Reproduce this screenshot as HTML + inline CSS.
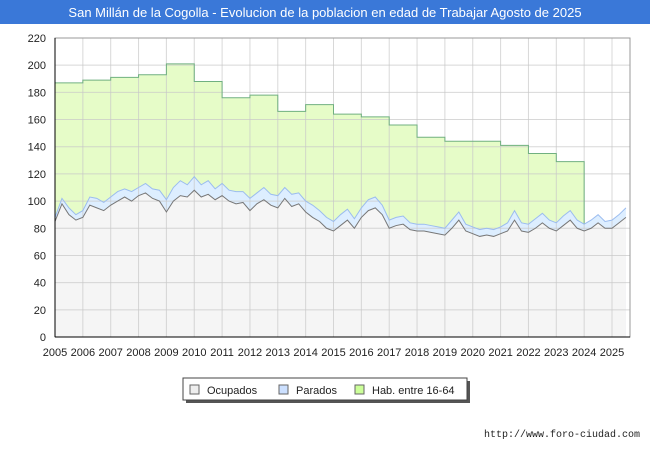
<!DOCTYPE html>
<html><head><meta charset="utf-8"><style>
body{margin:0;background:#fff;font-family:"Liberation Sans","DejaVu Sans",sans-serif;}
</style></head><body>
<svg id="c" width="650" height="450" xmlns="http://www.w3.org/2000/svg">
<rect x="0" y="0" width="650" height="450" fill="#fff"/>
<rect x="0" y="0" width="650" height="24" fill="#3a78d8"/>
<text x="325" y="17" text-anchor="middle" fill="#fff" font-size="13">San Millán de la Cogolla - Evolucion de la poblacion en edad de Trabajar Agosto de 2025</text>
<g id="fills"></g>
<g id="grid"></g>
<g id="lines"></g>
<g id="axes"></g>
<g>
<rect x="186" y="381" width="284" height="22" fill="#555"/>
<rect x="183" y="378" width="284" height="22" fill="#fff" stroke="#444"/>
<rect x="190" y="385" width="9" height="9" fill="#eee" stroke="#666"/>
<text x="207" y="394" font-size="11" fill="#222">Ocupados</text>
<rect x="279" y="385" width="9" height="9" fill="#cce0ff" stroke="#666"/>
<text x="296" y="394" font-size="11" fill="#222">Parados</text>
<rect x="355" y="385" width="9" height="9" fill="#ccff99" stroke="#666"/>
<text x="372" y="394" font-size="11" fill="#222">Hab. entre 16-64</text>
</g>
<text x="640" y="437" text-anchor="end" font-size="10" font-family="Liberation Mono, monospace" fill="#222">http://www.foro-ciudad.com</text>
</svg>
<script>
const yearLabels=[2005,2006,2007,2008,2009,2010,2011,2012,2013,2014,2015,2016,2017,2018,2019,2020,2021,2022,2023,2024,2025];
const yTicks=[0,20,40,60,80,100,120,140,160,180,200,220];
const habYears=[2005,2006,2007,2008,2009,2010,2011,2012,2013,2014,2015,2016,2017,2018,2019,2020,2021,2022,2023];
const habValues=[187,189,191,193,201,188,176,178,166,171,164,162,156,147,144,144,141,135,129];
const ocupados=[85,98,90,86,88,97,95,93,97,100,103,100,104,106,102,100,92,100,104,103,108,103,105,101,104,100,98,99,93,98,101,97,95,102,96,98,92,88,85,80,78,82,86,80,88,93,95,90,80,82,83,79,78,78,77,76,75,80,86,78,76,74,75,74,76,78,86,78,77,80,84,80,78,82,86,80,78,80,84,80,80,84,88];
const parados=[3,4,5,4,5,6,7,6,6,7,6,7,6,7,7,8,9,10,11,9,10,9,10,8,9,8,9,8,9,8,9,8,9,8,9,8,8,9,8,8,7,8,8,7,7,8,8,7,6,6,6,5,5,5,5,5,5,6,6,5,5,5,5,5,5,6,7,6,6,7,7,6,6,7,7,6,5,6,6,5,6,6,7];
const X0=55,X1=630,Y0=337,Y1=38;
const xs=y=>X0+(y-2005)*27.85;
const ys=v=>Y0-v*(Y0-Y1)/220;
const NS='http://www.w3.org/2000/svg';
function mk(tag,attrs,parent){const e=document.createElementNS(NS,tag);for(const k in attrs)e.setAttribute(k,attrs[k]);parent.appendChild(e);return e;}
const fills=document.getElementById('fills'),grid=document.getElementById('grid'),lines=document.getElementById('lines'),axes=document.getElementById('axes');
mk('rect',{x:X0,y:Y1,width:X1-X0,height:Y0-Y1,fill:'#fff'},fills);
yTicks.forEach(t=>{
 const l=mk('line',{x1:X0,x2:X1,y1:ys(t),y2:ys(t),stroke:'#c8c8c8','stroke-opacity':0.7},grid);
 
 
 const tx=mk('text',{x:X0-9,y:ys(t)+4,'text-anchor':'end','font-size':11,fill:'#222'},axes);
 tx.textContent=t;
 
 
});
yearLabels.forEach(yr=>{
 const l=mk('line',{x1:xs(yr),x2:xs(yr),y1:Y1,y2:Y0,stroke:'#c8c8c8','stroke-opacity':0.7},grid);
 
 
 const tx=mk('text',{x:xs(yr),y:Y0+19,'text-anchor':'middle','font-size':11,fill:'#222'},axes);
 tx.textContent=yr;
 
 
});
let hp='M'+xs(habYears[0])+','+Y0;
habYears.forEach((yr,i)=>{hp+=' L'+xs(yr)+','+ys(habValues[i])+' L'+xs(yr+1)+','+ys(habValues[i]);});
let hl=hp.replace('M'+xs(habYears[0])+','+Y0+' L','M');
hp+=' L'+xs(habYears[habYears.length-1]+1)+','+Y0+' Z';
const ha=mk('path',{d:hp,fill:'#e6fcc8'},fills);


const hln=mk('path',{d:hl+' L'+xs(habYears[habYears.length-1]+1)+','+ys(ocupados[76]+parados[76]),fill:'none',stroke:'#70b080','stroke-width':1},lines);


const qx=i=>xs(2005+i/4);
let tot='',oc='';
ocupados.forEach((v,i)=>{tot+=(i?' L':'M')+qx(i)+','+ys(v+parados[i]);oc+=(i?' L':'M')+qx(i)+','+ys(v);});
const last=qx(ocupados.length-1);
const pa=mk('path',{d:tot+' L'+last+','+Y0+' L'+X0+','+Y0+' Z',fill:'#ddeeff'},fills);


const pl=mk('path',{d:tot,fill:'none',stroke:'#9bbcef','stroke-width':1},lines);


const oa=mk('path',{d:oc+' L'+last+','+Y0+' L'+X0+','+Y0+' Z',fill:'#f5f5f5'},fills);


const ol=mk('path',{d:oc,fill:'none',stroke:'#777','stroke-width':1},lines);


mk('rect',{x:X0,y:Y1,width:X1-X0,height:Y0-Y1,fill:'none',stroke:'#999'},axes);
mk('line',{x1:X0,x2:X0,y1:Y1,y2:Y0,stroke:'#000'},axes);
mk('line',{x1:X0,x2:X1,y1:Y0,y2:Y0,stroke:'#000'},axes);
</script>
</body></html>
